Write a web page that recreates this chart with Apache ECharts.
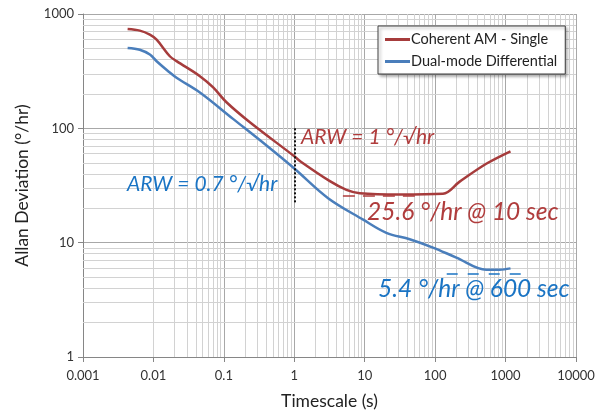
<!DOCTYPE html>
<html><head><meta charset="utf-8">
<script src="https://cdn.jsdelivr.net/npm/echarts@6/dist/echarts.min.js"></script>
<style>html,body{margin:0;padding:0;background:#fff}#c{width:608px;height:415px}</style>
</head><body><div id="c"></div>
<script>
const xTicks = [0.001, 0.01, 0.1, 1, 10, 100, 1000, 10000];
const yTicks = [1, 10, 100, 1000];
const redName = 'Coherent AM - Single';
const blueName = 'Dual-mode Differential';
const redX = [0.0043, 0.0064, 0.0089, 0.0111, 0.0171, 0.0213, 0.0457, 0.0705, 0.109, 0.234, 1.0, 1.24, 3.2, 5.5, 8.5, 31.6, 129, 223, 532, 1175];
const redY = [740, 716, 660, 596, 427, 387, 286, 228, 169, 113, 57, 51, 34.5, 29, 27.1, 26.4, 26.8, 34.2, 49, 63];
const blueX = [0.0043, 0.0064, 0.0089, 0.0111, 0.0162, 0.0213, 0.0457, 0.135, 0.40, 1.0, 3.02, 9.5, 20.3, 43.5, 93, 200, 532, 822, 1175];
const blueY = [505, 487, 442, 386, 316, 277, 206, 121, 71, 44.5, 24.5, 15.9, 12.2, 10.7, 9.06, 7.41, 5.81, 5.81, 5.96];
const arwLine = {x: 1, y0: 100, y1: 22};
const redRef = {y: 25.6, x0: 4.9, x1: 56};
const blueRef = {y: 5.4, x0: 146, x1: 1690};
const annText = {arwRed: 'ARW = 1 °/√hr', arwBlue: 'ARW = 0.7 °/√hr', red: '25.6 °/hr @ 10 sec', blue: '5.4 °/hr @ 600 sec'};

const RED = '#a63c3c', BLUE = '#4a7ebb', RED_T = '#b03c3c', BLUE_T = '#1a74c4';
const FONT = 'Lato, "Open Sans", sans-serif';

function minorVals(ticks) {
  const out = [];
  for (let i = 0; i < ticks.length - 1; i++) for (let k = 2; k <= 9; k++) out.push(+(ticks[i] * k).toPrecision(3));
  return out;
}
const pair = (xs, ys) => xs.map((x, i) => [x, ys[i]]);
const minorStyle = {color: '#d2d2d2', width: 1, type: 'solid'};

const chart = echarts.init(document.getElementById('c'), null, {renderer: 'canvas'});
chart.setOption({
  animation: false,
  textStyle: {fontFamily: FONT},
  grid: {left: 83, right: 32, top: 14, bottom: 55},
  legend: {
    orient: 'vertical', left: 378, top: 26, padding: [6, 8, 5, 7], itemGap: 7, z: 20,
    backgroundColor: '#fff', borderColor: '#404040', borderWidth: 1,
    shadowColor: 'rgba(0,0,0,0.35)', shadowBlur: 3, shadowOffsetX: 2, shadowOffsetY: 2,
    icon: 'rect', itemWidth: 25, itemHeight: 3,
    textStyle: {fontSize: 14.5, color: '#222', fontFamily: FONT, padding: [0, 0, 0, -4]},
    data: [redName, blueName]
  },
  xAxis: {
    type: 'log', logBase: 10, min: 0.001, max: 10000,
    name: 'Timescale (s)', nameLocation: 'middle', nameGap: 35,
    nameTextStyle: {fontSize: 17.5, color: '#222', fontFamily: FONT},
    axisLine: {show: true, lineStyle: {color: '#868686'}},
    axisTick: {show: true, length: 5, lineStyle: {color: '#868686'}},
    axisLabel: {fontSize: 13, color: '#333', margin: 12, fontFamily: FONT,
      formatter: v => String(+(+v).toPrecision(6))},
    splitLine: {show: true, lineStyle: {color: '#a8a8a8', width: 1}},
    minorTick: {show: false}, minorSplitLine: {show: false}
  },
  yAxis: {
    type: 'log', logBase: 10, min: 1, max: 1000,
    name: 'Allan Deviation (°/hr)', nameLocation: 'middle', nameGap: 52,
    nameTextStyle: {fontSize: 17.5, color: '#222', fontFamily: FONT},
    axisLine: {show: true, lineStyle: {color: '#868686'}},
    axisTick: {show: true, length: 5, lineStyle: {color: '#868686'}},
    axisLabel: {fontSize: 13, color: '#333', margin: 9, fontFamily: FONT,
      formatter: v => String(+(+v).toPrecision(6))},
    splitLine: {show: true, lineStyle: {color: '#a8a8a8', width: 1}}
  },
  series: [
    {
      name: 'grid-minor', type: 'line', data: [], z: 1, silent: true,
      markLine: {
        z: 1, silent: true, symbol: 'none', label: {show: false}, animation: false,
        lineStyle: minorStyle,
        data: minorVals(xTicks).map(v => ({xAxis: v})).concat(minorVals(yTicks).map(v => ({yAxis: v})))
      }
    },
    {
      name: redName, type: 'line', z: 3, data: pair(redX, redY), smooth: 0.35,
      showSymbol: false, symbol: 'none', color: RED, lineStyle: {color: RED, width: 2.5}
    },
    {
      name: blueName, type: 'line', z: 3, data: pair(blueX, blueY), smooth: 0.35,
      showSymbol: false, symbol: 'none', color: BLUE, lineStyle: {color: BLUE, width: 2.5}
    },
    {
      name: 'annot', type: 'line', data: [], z: 4, silent: true,
      markLine: {
        z: 4, silent: true, symbol: 'none', label: {show: false}, animation: false,
        data: [
          [{coord: [arwLine.x, arwLine.y0], lineStyle: {color: '#111', width: 2, type: [2, 2]}}, {coord: [arwLine.x, arwLine.y1]}],
          [{coord: [redRef.x0, redRef.y], lineStyle: {color: RED_T, width: 1.5, type: [12, 8]}}, {coord: [redRef.x1, redRef.y]}],
          [{coord: [blueRef.x0, blueRef.y], lineStyle: {color: BLUE_T, width: 1.5, type: [11, 10]}}, {coord: [blueRef.x1, blueRef.y]}]
        ]
      }
    }
  ],
  graphic: [
    {type: 'text', left: 301, top: 127, z: 10, style: {text: annText.arwRed, fill: RED_T, font: 'italic 21px ' + FONT}},
    {type: 'text', left: 127, top: 174, z: 10, style: {text: annText.arwBlue, fill: BLUE_T, font: 'italic 21px ' + FONT}},
    {type: 'text', left: 367, top: 200, z: 10, style: {text: annText.red, fill: RED_T, font: 'italic 24.5px ' + FONT}},
    {type: 'text', left: 378, top: 277, z: 10, style: {text: annText.blue, fill: BLUE_T, font: 'italic 24.5px ' + FONT}}
  ]
});
</script></body></html>
